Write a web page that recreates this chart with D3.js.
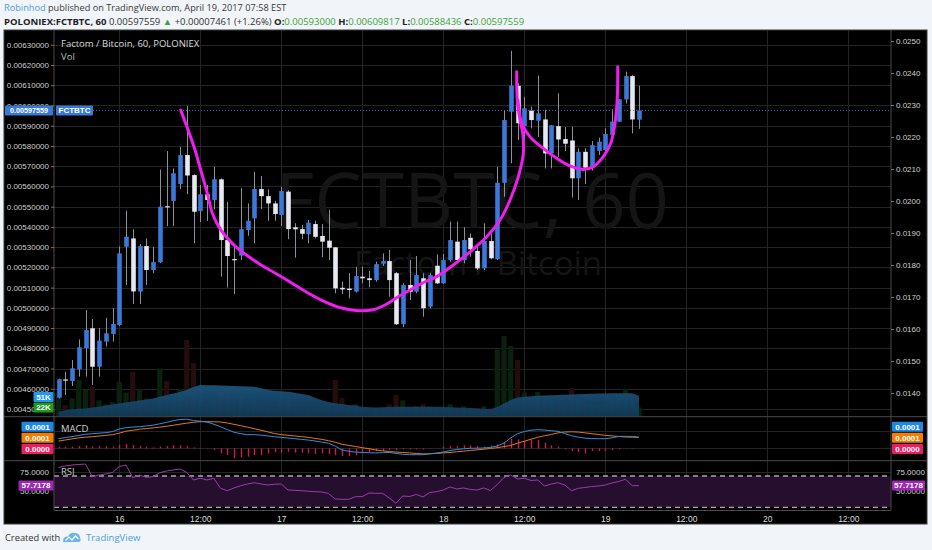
<!DOCTYPE html>
<html>
<head>
<meta charset="utf-8">
<script src="https://cdnjs.cloudflare.com/ajax/libs/d3/7.8.5/d3.min.js"></script>
<style>
html,body{margin:0;padding:0;background:#f1f4f8;}
svg{display:block;font-family:"Liberation Sans",Arial,sans-serif;}
</style>
</head>
<body>
<svg id="chart" width="932" height="550"></svg>
<script>
// hourly candles, first one 15 Apr 2017 15:00
const H = 3600e3;
const t0 = Date.UTC(2017, 3, 15, 15);

const opens = [0.004556,0.004646,0.004638,0.004696,0.004801,0.004899,0.004709,0.004833,0.004871,0.004915,
  0.005302,0.005343,0.005080,0.005305,0.005187,0.005225,0.005502,0.005528,0.005612,0.005755,
  0.005656,0.005478,0.005561,0.005533,0.005635,0.005335,0.005241,0.005258,0.005384,0.005442,
  0.005587,0.005552,0.005516,0.005459,0.005574,0.005398,0.005389,0.005364,0.005414,0.005355,
  0.005332,0.005299,0.005099,0.005095,0.005080,0.005154,0.005146,0.005137,0.005218,0.005231,
  0.005171,0.004919,0.005113,0.005080,0.005146,0.005006,0.005208,0.005121,0.005236,0.005327,
  0.005236,0.005346,0.005281,0.005195,0.005330,0.005240,0.005618,0.005969,0.006097,0.005898,
  0.005975,0.005925,0.005931,0.005763,0.005898,0.005834,0.005827,0.005640,0.005771,0.005698,
  0.005775,0.005780,0.005854,0.005920,0.006030,0.006145,0.00593000];
const highs = [0.004650,0.004684,0.004742,0.004844,0.004989,0.004945,0.004900,0.004950,0.004998,0.005303,
  0.005480,0.005388,0.005315,0.005343,0.005302,0.005684,0.005775,0.005689,0.005795,0.005997,
  0.005660,0.005607,0.005607,0.005697,0.005640,0.005524,0.005315,0.005591,0.005516,0.005673,
  0.005651,0.005586,0.005529,0.005598,0.005582,0.005418,0.005409,0.005434,0.005430,0.005414,
  0.005483,0.005300,0.005129,0.005171,0.005203,0.005203,0.005183,0.005228,0.005269,0.005286,
  0.005177,0.005121,0.005236,0.005256,0.005171,0.005171,0.005264,0.005266,0.005426,0.005426,
  0.005398,0.005368,0.005310,0.005418,0.005368,0.005697,0.005977,0.006270,0.006110,0.006043,
  0.005994,0.006148,0.005979,0.005903,0.006060,0.005893,0.005895,0.005788,0.005788,0.005824,
  0.005841,0.005887,0.005981,0.006032,0.006167,0.006150,0.00609817];
const lows = [0.004552,0.004569,0.004614,0.004660,0.004660,0.004619,0.004660,0.004809,0.004833,0.004910,
  0.005113,0.005019,0.005019,0.005113,0.005171,0.005221,0.005404,0.005404,0.005586,0.005562,
  0.005319,0.005424,0.005430,0.005487,0.005154,0.005100,0.005068,0.005236,0.005356,0.005319,
  0.005488,0.005430,0.005430,0.005404,0.005339,0.005248,0.005339,0.005319,0.005343,0.005250,
  0.005236,0.005072,0.005068,0.005047,0.005075,0.005121,0.005101,0.005129,0.005207,0.005055,
  0.004915,0.004904,0.005039,0.005072,0.004956,0.004998,0.005118,0.005118,0.005228,0.005220,
  0.005220,0.005253,0.005187,0.005187,0.005240,0.005236,0.005549,0.005714,0.005829,0.005829,
  0.005887,0.005845,0.005689,0.005689,0.005745,0.005775,0.005545,0.005533,0.005612,0.005678,
  0.005755,0.005771,0.005845,0.005918,0.006010,0.005862,0.00588436];
const closes = [0.004647,0.004641,0.004701,0.004805,0.004890,0.004709,0.004838,0.004874,0.004920,0.005269,
  0.005351,0.005081,0.005305,0.005187,0.005226,0.005500,0.005499,0.005665,0.005755,0.005654,
  0.005475,0.005561,0.005533,0.005635,0.005335,0.005256,0.005235,0.005389,0.005430,0.005587,
  0.005552,0.005516,0.005464,0.005577,0.005389,0.005388,0.005366,0.005421,0.005351,0.005327,
  0.005297,0.005096,0.005091,0.005088,0.005157,0.005146,0.005137,0.005216,0.005231,0.005137,
  0.004919,0.005113,0.005080,0.005162,0.004998,0.005162,0.005121,0.005236,0.005335,0.005236,
  0.005335,0.005289,0.005195,0.005330,0.005245,0.005618,0.005928,0.006098,0.005912,0.005986,
  0.005928,0.005961,0.005763,0.005902,0.005832,0.005811,0.005640,0.005771,0.005693,0.005804,
  0.005821,0.005859,0.005920,0.006030,0.006145,0.005931,0.00597559];

// volume in thousands and its moving average
const volumes = [60,28,45,92,67,75,40,30,35,88,60,113,70,45,25,122,90,55,70,195,
  136,45,30,40,70,55,35,50,25,45,30,25,20,35,45,20,15,18,20,22,
  30,92,46,25,30,15,12,20,15,30,54,40,20,25,30,25,18,20,30,20,
  25,15,20,25,20,170,205,180,144,60,45,62,50,40,35,30,72,40,35,30,
  25,30,40,55,70,50,22];
const volAvg = [11,14.6,17,18.7,19.5,21.8,24,27,29.7,32.3,34.6,37,39.7,42.3,44.9,49.5,53.8,58,61.8,67.4,
  74.4,79.5,79,78.7,78.2,77.7,77,76.4,75.6,75.1,71,66.7,64.9,63.3,62.3,59.5,56.7,53.8,46.9,40.5,
  35.6,32.6,30.8,28.2,26.7,23.6,22.6,21.8,22.3,23.1,23.6,23.8,23.8,23.8,23.8,23.8,23.8,23.6,22.6,21.8,
  21,20.3,19.2,18.5,17.4,23.1,32.1,41,47.7,49.2,50.5,51.8,52.3,53,53.8,54.6,55.4,55.9,56.4,56.9,
  57.4,57.9,58.2,58.2,58.2,58.2,51];

const macdLine = [5.51e-5,6.14e-5,6.70e-5,7.33e-5,8.01e-5,8.35e-5,8.64e-5,8.92e-5,9.55e-5,11.02e-5,
  11.76e-5,12.10e-5,12.33e-5,12.73e-5,13.18e-5,13.98e-5,14.77e-5,15.74e-5,16.42e-5,16.59e-5,
  15.80e-5,15.45e-5,14.94e-5,13.75e-5,12.27e-5,10.68e-5,9.15e-5,8.35e-5,7.78e-5,7.78e-5,
  7.56e-5,7.05e-5,6.65e-5,6.25e-5,5.91e-5,5.51e-5,5.11e-5,4.72e-5,4.20e-5,3.58e-5,
  2.95e-5,1.25e-5,-0.91e-5,-1.65e-5,-2.10e-5,-2.33e-5,-2.50e-5,-2.56e-5,-2.44e-5,-2.33e-5,
  -2.84e-5,-3.35e-5,-3.58e-5,-3.58e-5,-3.58e-5,-3.07e-5,-2.61e-5,-2.05e-5,-1.25e-5,-0.63e-5,
  -0.23e-5,0.06e-5,0.11e-5,0.23e-5,0.57e-5,1.42e-5,2.95e-5,5.97e-5,8.35e-5,9.55e-5,
  10.34e-5,10.63e-5,10.40e-5,10.06e-5,9.66e-5,8.41e-5,7.22e-5,6.36e-5,5.80e-5,5.57e-5,
  5.51e-5,5.51e-5,5.97e-5,6.82e-5,6.82e-5,6.82e-5,6.31e-5];
const signalLine = [4.15e-5,4.77e-5,5.40e-5,5.97e-5,6.36e-5,6.65e-5,6.99e-5,7.39e-5,7.78e-5,8.64e-5,
  9.77e-5,10.28e-5,10.91e-5,11.25e-5,11.65e-5,12.05e-5,12.56e-5,13.13e-5,13.75e-5,14.32e-5,
  14.83e-5,15.17e-5,15.17e-5,15.11e-5,15.00e-5,14.43e-5,13.64e-5,12.90e-5,12.05e-5,11.19e-5,
  10.34e-5,9.38e-5,8.41e-5,7.84e-5,7.44e-5,7.05e-5,6.65e-5,6.25e-5,5.68e-5,5.11e-5,
  4.38e-5,3.47e-5,2.33e-5,1.70e-5,1.08e-5,0.40e-5,-0.17e-5,-0.91e-5,-1.42e-5,-1.76e-5,
  -2.10e-5,-2.33e-5,-2.56e-5,-2.90e-5,-3.13e-5,-3.07e-5,-2.84e-5,-2.56e-5,-2.33e-5,-1.93e-5,
  -1.59e-5,-1.19e-5,-0.85e-5,-0.45e-5,-0.06e-5,0.40e-5,1.02e-5,1.65e-5,2.95e-5,4.03e-5,
  5.23e-5,6.31e-5,7.16e-5,7.90e-5,8.81e-5,9.32e-5,9.43e-5,9.26e-5,8.81e-5,8.35e-5,
  7.90e-5,7.39e-5,7.10e-5,6.76e-5,6.48e-5,6.36e-5,6.25e-5];
const macdHist = [0.97e-5,0.97e-5,0.97e-5,1.31e-5,1.70e-5,0.97e-5,1.31e-5,1.31e-5,0.97e-5,1.88e-5,
  2.44e-5,1.88e-5,1.31e-5,0.97e-5,0.57e-5,0.97e-5,1.31e-5,1.88e-5,1.70e-5,1.31e-5,
  0.57e-5,0.17e-5,-0.17e-5,-0.97e-5,-2.84e-5,-3.81e-5,-5.68e-5,-5.11e-5,-4.72e-5,-3.81e-5,
  -3.81e-5,-2.84e-5,-2.10e-5,-2.44e-5,-1.88e-5,-2.44e-5,-2.44e-5,-2.84e-5,-3.24e-5,-2.84e-5,
  -3.24e-5,-3.81e-5,-4.38e-5,-4.38e-5,-3.98e-5,-2.84e-5,-2.10e-5,-1.53e-5,-1.53e-5,-0.97e-5,
  -0.97e-5,-0.57e-5,-0.57e-5,-0.57e-5,-0.57e-5,-0.17e-5,-0.17e-5,0.97e-5,1.31e-5,1.31e-5,
  1.70e-5,1.70e-5,1.31e-5,0.97e-5,1.70e-5,2.27e-5,3.58e-5,5.51e-5,5.11e-5,4.15e-5,
  5.11e-5,4.72e-5,3.24e-5,1.70e-5,0.97e-5,-0.57e-5,-1.53e-5,-2.10e-5,-2.84e-5,-1.53e-5,
  -1.53e-5,-1.53e-5,-0.97e-5,-0.57e-5,0.17e-5,-0.17e-5,0];
const rsi = [80.9,82.8,84.0,84.7,85.3,69.1,71.3,72.6,74.5,82.1,84.0,67.8,71.3,68.3,69.1,74.2,76.4,77.7,78.9,74.5,
  64.9,67.1,64.9,67.1,54.3,51.2,54.7,57.6,59.8,61.4,59.8,58.5,59.4,59.8,52.1,51.7,51.2,50.5,49.9,49.6,
  47.6,40.6,40.2,40.2,43.6,43.6,48.3,47.9,47.9,41.9,35.1,44.5,43.8,46.4,43.2,48.9,49.9,52.1,56.0,53.4,
  54.7,52.8,52.1,54.7,51.5,59.1,68.1,71.3,66.2,67.1,64.3,64.9,57.2,59.8,61.4,58.5,51.2,54.3,55.3,56.6,
  57.2,58.5,61.1,63.0,65.8,57.6,57.7178];

// hand drawn annotations: [hours after first candle, price]
const drawnCurve = [[18.1,0.005977],[20.07,0.005796],[21.07,0.005681],[22.04,0.005566],[22.79,0.005467],
  [24.03,0.005385],[26.0,0.005310],[29.56,0.005221],[32.07,0.005172],[34.55,0.005123],[36.96,0.005073],
  [39.48,0.005030],[41.96,0.004999],[44.37,0.004986],[46.4,0.004989],[48.37,0.005014],[50.3,0.005055],
  [52.33,0.005093],[54.3,0.005129],[56.03,0.005154],[58.49,0.005212],[60.96,0.005277],[63.44,0.005351],
  [65.41,0.005434],[66.89,0.005533],[68.12,0.005648],[68.86,0.005763],[68.77,0.005862],[68.37,0.005928],
  [67.97,0.006027],[67.88,0.006167]];
const drawnCup = [[68.07,0.006027],[68.62,0.005913],[69.85,0.005845],[71.82,0.005788],[73.81,0.005739],
  [75.78,0.005701],[77.75,0.005684],[79.23,0.005697],[80.71,0.005747],[81.81,0.005813],[82.44,0.005912],
  [82.79,0.006043],[82.84,0.006191]];

const priceTicks = [0.0063,0.0062,0.0061,0.0060,0.0059,0.0058,0.0057,0.0056,0.0055,0.0054,
  0.0053,0.0052,0.0051,0.0050,0.0049,0.0048,0.0047,0.0046,0.0045];
const rightTicks = [0.025,0.024,0.023,0.022,0.021,0.020,0.019,0.018,0.017,0.016,0.015,0.014];
const timeLabels = ["16","12:00","17","12:00","18","12:00","19","12:00","20","12:00"];
const timeLabelStart = Date.UTC(2017, 3, 16, 0);

// ---------------------------------------------------------------
const svg = d3.select("#chart");
const L = 54, R = 891, paneTop = 30, priceBottom = 416.7,
      macdTop = 416.7, macdBottom = 460.7, rsiTop = 460.7, rsiBottom = 510.5;
const n = closes.length;
const times = d3.range(n).map(i => new Date(t0 + i*H));
const tickDates = timeLabels.map((_, i) => new Date(timeLabelStart + i*12*H));
const f8 = d3.format(".8f");

const x = d3.scaleTime().domain([new Date(t0 - 0.667*H), new Date(t0 + 123.33*H)]).range([L, R]);
const xh = h => x(new Date(t0 + h*H));
const y = d3.scaleLinear().domain([0.004462, 0.006373]).range([priceBottom, paneTop]);
const yR = d3.scaleLinear().domain([0.013259, 0.025344]).range([priceBottom, paneTop]);
const yV = d3.scaleLinear().domain([0, 1000]).range([416, 26]);
const yM = d3.scaleLinear().domain([-0.00007, 0.00018]).range([macdBottom, macdTop]);
const yS = d3.scaleLinear().domain([30, 70]).range([507.3, 476]);

const defs = svg.append("defs");
[["clipP", paneTop, priceBottom], ["clipM", macdTop, macdBottom], ["clipR", rsiTop, rsiBottom]].forEach(([id, a, b]) => {
    defs.append("clipPath").attr("id", id).append("rect")
        .attr("x", L).attr("y", a).attr("width", R - L).attr("height", b - a);
});

// header
const head1 = svg.append("text").attr("x", 4).attr("y", 11).attr("font-family", "Open Sans").attr("font-size", 9.2);
head1.append("tspan").attr("fill", "#4d9fdc").text("Robinhod");
head1.append("tspan").attr("fill", "#3a3a3a").text(" published on TradingView.com, April 19, 2017 07:58 EST");
const green = "#3aa63a";
const head2 = svg.append("text").attr("x", 4).attr("y", 25).attr("font-family", "Open Sans").attr("font-size", 9.5).attr("fill", "#222");
[["POLONIEX:FCTBTC, 60", "#222", 700], [" 0.00597559 ", "#333", 400], ["▲", green, 400],
 [" +0.00007461 (+1.26%) ", "#333", 400], ["O:", "#222", 700], [f8(opens[n-1]), green, 400],
 [" H:", "#222", 700], [f8(highs[n-1]), green, 400], [" L:", "#222", 700], [f8(lows[n-1]), green, 400],
 [" C:", "#222", 700], [f8(closes[n-1]), green, 400]].forEach(([t, c, w]) => {
    head2.append("tspan").attr("fill", c).attr("font-weight", w).text(t);
});

// chart frame
svg.append("rect").attr("x", 4).attr("y", paneTop).attr("width", 923).attr("height", 494)
    .attr("fill", "#000").attr("stroke", "#3a3a3a");

// grid
const grid = svg.append("g").attr("stroke", "#242424").attr("stroke-width", 1);
grid.selectAll(".gh").data(priceTicks).join("line")
    .attr("x1", L).attr("x2", R).attr("y1", d => Math.round(y(d)) + 0.5).attr("y2", d => Math.round(y(d)) + 0.5);
grid.selectAll(".gv").data(tickDates).join("line")
    .attr("x1", d => Math.round(x(d)) + 0.5).attr("x2", d => Math.round(x(d)) + 0.5)
    .attr("y1", paneTop).attr("y2", rsiBottom);
grid.selectAll(".gm").data([0.0001, 0]).join("line")
    .attr("x1", L).attr("x2", R).attr("y1", d => Math.round(yM(d)) + 0.5).attr("y2", d => Math.round(yM(d)) + 0.5);
grid.selectAll(".gr").data([75, 50]).join("line")
    .attr("x1", L).attr("x2", R).attr("y1", d => Math.round(yS(d)) + 0.5).attr("y2", d => Math.round(yS(d)) + 0.5);

// watermark
const wm = svg.append("g").attr("clip-path", "url(#clipP)").attr("fill", "#151515")
    .attr("font-family", "Open Sans").attr("text-anchor", "middle");
wm.append("text").attr("x", 472).attr("y", 228).attr("font-size", 76).text("FCTBTC, 60");
wm.append("text").attr("x", 478).attr("y", 275).attr("font-size", 33).text("Factom / Bitcoin");

// price pane
const pane = svg.append("g").attr("clip-path", "url(#clipP)");
const up = i => closes[i] >= opens[i];
pane.selectAll(".vol").data(volumes).join("rect")
    .attr("x", (d, i) => x(times[i]) - 2.6).attr("width", 5.2)
    .attr("y", d => yV(d)).attr("height", d => yV(0) - yV(d))
    .attr("fill", (d, i) => up(i) ? "#0a220d" : "#240d0d");
const gradV = defs.append("linearGradient").attr("id", "gv").attr("x1", 0).attr("x2", 0).attr("y1", 0).attr("y2", 1);
gradV.append("stop").attr("offset", "0%").attr("stop-color", "#1c5780");
gradV.append("stop").attr("offset", "100%").attr("stop-color", "#123a58");
pane.append("path").datum(volAvg)
    .attr("fill", "url(#gv)").attr("fill-opacity", 0.93)
    .attr("d", d3.area().x((d, i) => x(times[i])).y0(yV(0)).y1(d => yV(d)));

pane.selectAll(".wick").data(times).join("line")
    .attr("x1", d => Math.round(x(d)) + 0.5).attr("x2", d => Math.round(x(d)) + 0.5)
    .attr("y1", (d, i) => y(highs[i])).attr("y2", (d, i) => y(lows[i]))
    .attr("stroke", "#8d9098").attr("stroke-width", 1);
pane.selectAll(".body").data(times).join("rect")
    .attr("x", d => Math.round(x(d)) + 0.5 - 2.3).attr("width", 4.6)
    .attr("y", (d, i) => y(Math.max(opens[i], closes[i])))
    .attr("height", (d, i) => Math.max(1.2, Math.abs(y(opens[i]) - y(closes[i]))))
    .attr("fill", (d, i) => up(i) ? "#3b78d8" : "#e6e9f0");

pane.append("line").attr("x1", L).attr("x2", R)
    .attr("y1", y(closes[n-1])).attr("y2", y(closes[n-1]))
    .attr("stroke", "#3670c4").attr("stroke-dasharray", "1,2");

const pen = d3.line().x(d => xh(d[0])).y(d => y(d[1])).curve(d3.curveCatmullRom);
[drawnCurve, drawnCup].forEach(c => {
    pane.append("path").datum(c).attr("d", pen)
        .attr("fill", "none").attr("stroke", "#f01cf0").attr("stroke-width", 3)
        .attr("stroke-linecap", "round").attr("stroke-linejoin", "round");
});

svg.append("text").attr("x", 61).attr("y", 47).attr("font-family", "Open Sans").attr("font-size", 9.5)
    .attr("fill", "#d8d8d8").text("Factom / Bitcoin, 60, POLONIEX");
svg.append("text").attr("x", 61).attr("y", 60).attr("font-family", "Open Sans").attr("font-size", 9.5)
    .attr("fill", "#bdbdbd").text("Vol");

// MACD pane
const mp = svg.append("g").attr("clip-path", "url(#clipM)");
mp.selectAll(".hist").data(macdHist).join("rect")
    .attr("x", (d, i) => Math.round(x(times[i])) - 0.2).attr("width", 1.4)
    .attr("y", d => Math.min(yM(d), yM(0))).attr("height", d => Math.abs(yM(d) - yM(0)))
    .attr("fill", "#d0174e");
mp.append("path").datum(signalLine).attr("fill", "none").attr("stroke", "#e4781c").attr("stroke-width", 1)
    .attr("d", d3.line().x((d, i) => x(times[i])).y(d => yM(d)));
mp.append("path").datum(macdLine).attr("fill", "none").attr("stroke", "#2f8fe0").attr("stroke-width", 1)
    .attr("d", d3.line().x((d, i) => x(times[i])).y(d => yM(d)));
svg.append("text").attr("x", 61).attr("y", 432).attr("font-family", "Open Sans").attr("font-size", 9.5)
    .attr("fill", "#d0d0d0").text("MACD");

// RSI pane
const rp = svg.append("g").attr("clip-path", "url(#clipR)");
rp.append("rect").attr("x", L).attr("width", R - L).attr("y", yS(70)).attr("height", yS(30) - yS(70)).attr("fill", "#260e2e");
rp.selectAll(".band").data([70, 30]).join("line")
    .attr("x1", L).attr("x2", R).attr("y1", d => yS(d)).attr("y2", d => yS(d))
    .attr("stroke", "#a8a8a8").attr("stroke-width", 1.3).attr("stroke-dasharray", "5,4");
rp.append("path").datum(rsi).attr("fill", "none").attr("stroke", "#9a3cb0").attr("stroke-width", 1)
    .attr("d", d3.line().x((d, i) => x(times[i])).y(d => yS(d)));
svg.append("text").attr("x", 61).attr("y", 475).attr("font-family", "Open Sans").attr("font-size", 9.5)
    .attr("fill", "#c8c8c8").text("RSI");

// separators
const sep = svg.append("g").attr("stroke", "#4a4a4a");
[priceBottom, macdBottom].forEach(v => sep.append("line").attr("x1", 4).attr("x2", 927).attr("y1", v).attr("y2", v));
sep.append("line").attr("x1", L).attr("x2", R).attr("y1", rsiBottom).attr("y2", rsiBottom);
[L, R].forEach(v => sep.append("line").attr("x1", v).attr("x2", v).attr("y1", paneTop).attr("y2", rsiBottom));

// axes
const styleAxis = g => {
    g.select(".domain").remove();
    g.selectAll(".tick line").attr("stroke", "#777");
    g.selectAll("text").attr("fill", "#cfcfcf").attr("font-size", 8);
};
svg.append("g").attr("transform", `translate(${L},0)`)
    .call(d3.axisLeft(y).tickValues(priceTicks).tickFormat(f8).tickSize(3).tickPadding(2)).call(styleAxis);
svg.append("g").attr("transform", `translate(${R},0)`)
    .call(d3.axisRight(yR).tickValues(rightTicks).tickFormat(d3.format(".4f")).tickSize(3).tickPadding(2)).call(styleAxis);
svg.append("g").attr("transform", `translate(0,${rsiBottom})`)
    .call(d3.axisBottom(x).tickValues(tickDates).tickFormat((d, i) => timeLabels[i]).tickSize(0).tickPadding(5))
    .call(styleAxis).selectAll("text").attr("font-size", 8.5).attr("fill", "#dcdcdc");
[[L, "end", -5], [R, "start", 5]].forEach(([ax, anchor, dx]) => {
    svg.selectAll(null).data([75, 50]).join("text")
        .attr("x", ax + dx).attr("y", d => yS(d)).attr("dy", "0.35em")
        .attr("text-anchor", anchor).attr("font-size", 8).attr("fill", "#cfcfcf")
        .text(d => d3.format(".4f")(d));
});

// value badges
const badge = (xl, w, yc, bg, txt, fs) => {
    const g = svg.append("g");
    g.append("rect").attr("x", xl).attr("y", yc - 5).attr("width", w).attr("height", 10).attr("fill", bg).attr("rx", 1);
    g.append("text").attr("x", xl + w/2).attr("y", yc).attr("dy", "0.35em").attr("text-anchor", "middle")
        .attr("font-size", fs || 8).attr("font-weight", 700).attr("fill", "#fff").text(txt);
};
const kf = v => Math.round(v) + "K";
badge(5, 48, y(closes[n-1]), "#3a78d6", f8(closes[n-1]), 7.2);
badge(56, 37, y(closes[n-1]), "#3a78d6", "FCTBTC");
badge(33.5, 20, yV(volAvg[n-1]) + 0.8, "#2196f3", kf(volAvg[n-1]));
badge(33.5, 20, yV(volumes[n-1]), "#1d9a20", kf(volumes[n-1]));
const fm = d3.format(".4f");
[[21.5, 32], [R + 1, 31]].forEach(([xl, w]) => {
    badge(xl, w, 426.7, "#1e88e5", fm(macdLine[n-1]));
    badge(xl, w, 437.8, "#f57c00", fm(signalLine[n-1]));
    badge(xl, w, 449, "#e91e63", fm(Math.abs(macdHist[n-1])));
});
badge(18.5, 35, yS(rsi[n-1]), "#9c27b0", fm(rsi[n-1]));
badge(R + 1, 33, yS(rsi[n-1]), "#9c27b0", fm(rsi[n-1]));

// footer
svg.append("text").attr("x", 5).attr("y", 541).attr("font-family", "Open Sans").attr("font-size", 9.3)
    .attr("fill", "#333").text("Created with");
svg.append("path").attr("d", "M63,542 Q63,536 68,536.5 Q70,531.5 75,533 Q79.5,533 80,537.5 Q82,542 78,542 Z").attr("fill", "#6cb6e8");
svg.append("path").attr("d", "M65.5,540.5 l3.5,-3.5 l3,3 l3.5,-4 l3,3").attr("fill", "none").attr("stroke", "#fff").attr("stroke-width", 1.2);
svg.append("text").attr("x", 86).attr("y", 541).attr("font-family", "Open Sans").attr("font-size", 9.5)
    .attr("fill", "#4aa3df").text("TradingView");
</script>
</body>
</html>
